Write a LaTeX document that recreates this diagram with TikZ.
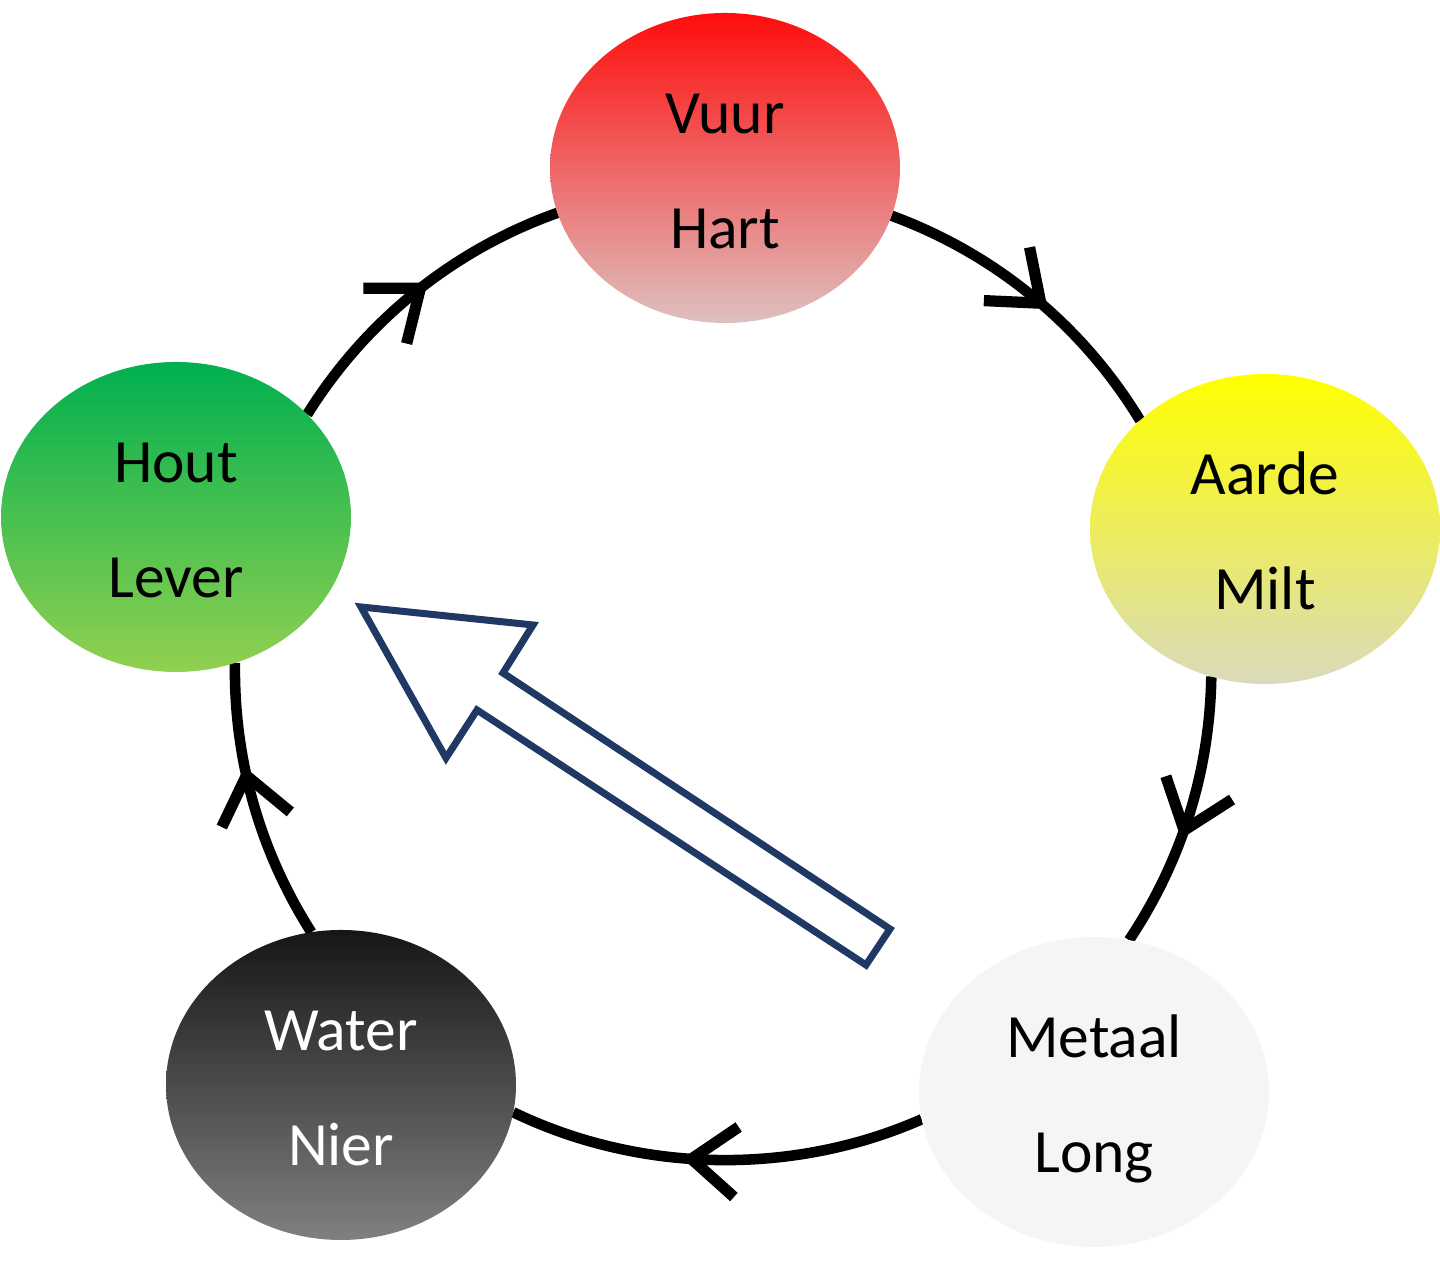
\documentclass[tikz,border=0pt]{standalone}
\usepackage{fontspec}
\setmainfont{Carlito}
\usetikzlibrary{shapes.geometric,decorations.markings,backgrounds}
\definecolor{fire}{RGB}{255,12,12}
\definecolor{firelow}{RGB}{222,192,192}
\definecolor{earth}{RGB}{255,255,0}
\definecolor{earthlow}{RGB}{218,218,188}
\definecolor{wood}{RGB}{0,176,80}
\definecolor{woodlow}{RGB}{146,208,80}
\definecolor{water}{RGB}{22,22,22}
\definecolor{waterlow}{RGB}{128,128,128}
\definecolor{metal}{RGB}{245,245,245}
\definecolor{navy}{RGB}{32,56,100}

\begin{document}
\begin{tikzpicture}[
    element/.style={ellipse, minimum width=3.5cm, minimum height=3.1cm,
                    inner sep=-0.5cm, outer sep=0pt, align=center,
                    font=\fontsize{17.5}{32.7}\selectfont},
    ring/.style={line width=3pt, looseness=0.88, postaction={decorate},
                 decoration={markings, mark=at position #1 with
                   {\draw[line width=3.2pt] (-0.449,0.351) -- (0,0) -- (-0.449,-0.351);}}},
    ring/.default=0.5]
\useasboundingbox (0,0) rectangle (14.4,12.8);
% Elements
\node[element, top color=fire, bottom color=firelow] (vuur) at (7.25,11.12) {\strut Vuur\\\strut Hart};
\node[element, top color=earth, bottom color=earthlow] (aarde) at (12.65,7.51) {\strut Aarde\\\strut Milt};
\node[element, fill=metal] (metaal) at (10.94,1.88) {\strut Metaal\\\strut Long};
\node[element, top color=water, bottom color=waterlow, text=white] (water) at (3.41,1.95) {\strut Water\\\strut Nier};
\node[element, top color=wood, bottom color=woodlow] (hout) at (1.76,7.63) {\strut Hout\\\strut Lever};
% Cycle
\begin{scope}[on background layer]
\draw[ring=0.52] (hout.38) to[bend left=19.3] (vuur.195);
\draw[ring=0.53] (vuur.-16) to[bend left=19.3] (aarde.139);
\draw[ring=0.56] (aarde.250) to[bend left=16.4] (metaal.77);
\draw[ring=0.56] (metaal.189) to[bend left=24.8] (water.-9);
\draw[ring=0.6] (water.101) to[bend left=16.6] (hout.-68);
\end{scope}
% Big arrow
\draw[line width=2pt, navy] (3.61,6.73) -- (5.33,6.55) -- (5.03,6.07) -- (8.90,3.51)
  -- (8.66,3.15) -- (4.77,5.70) -- (4.46,5.22) -- cycle;
\end{tikzpicture}
\end{document}
